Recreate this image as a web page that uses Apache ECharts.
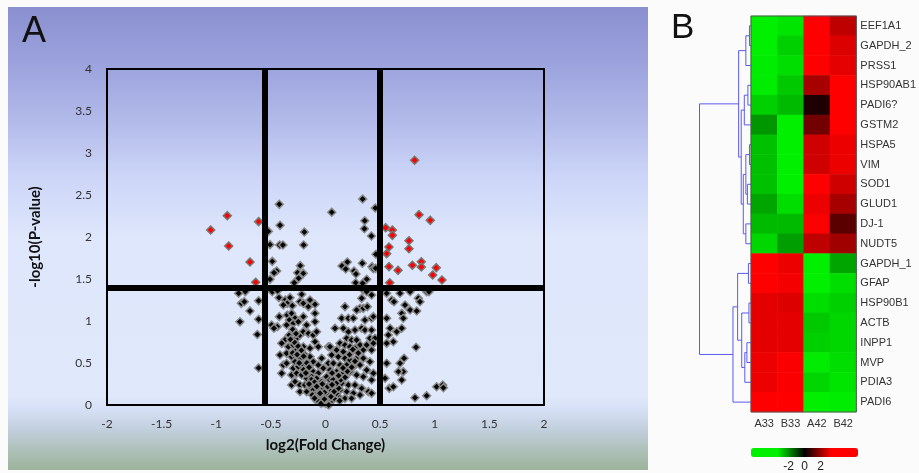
<!DOCTYPE html>
<html><head><meta charset="utf-8">
<script src="https://cdn.jsdelivr.net/npm/echarts@6/dist/echarts.min.js"></script>
<style>html,body{margin:0;padding:0;background:#fbfbfb}#c{width:919px;height:473px}</style>
</head><body><div id="c"></div>
<script>
// ---------- Panel A: volcano plot data ----------
const xTicks = [-2,-1.5,-1,-0.5,0,0.5,1,1.5,2];
const yTicks = [0,0.5,1,1.5,2,2.5,3,3.5,4];
const foldThresholdLow = -0.555;
const foldThresholdHigh = 0.5;
const pThreshold = 1.4;

const redPoints = [[-1.051,2.083],[-0.899,2.254],[-0.886,1.893],[-0.612,2.183],[-0.691,1.702],[-0.639,1.461],
 [0.816,2.913],[0.856,2.266],[0.959,2.198],[0.551,2.111],[0.612,2.083],[0.612,2.02],[0.764,1.956],[0.764,1.861],
 [0.581,1.881],[0.56,1.802],[0.581,1.647],[0.664,1.603],[0.795,1.663],[0.877,1.706],[0.877,1.643],[1.014,1.635],
 [0.981,1.548],[1.066,1.488],[0.588,1.456]];

const greyAbove = [[-0.423,2.389],[-0.416,2.139],[-0.523,2.067],[-0.508,1.909],[-0.42,1.905],[-0.39,1.905],[-0.194,2.06],
 [-0.2,1.905],[-0.487,1.71],[-0.447,1.595],[-0.471,1.575],[-0.231,1.659],[-0.255,1.575],[-0.203,1.567],[-0.246,1.508],
 [-0.508,1.496],[-0.286,1.456],[0.057,2.294],[0.34,2.452],[0.456,2.345],[0.359,2.194],[0.356,2.099],[0.42,2.012],
 [0.462,1.794],[0.337,1.687],[0.2,1.702],[0.151,1.655],[0.185,1.619],[0.261,1.595],[0.279,1.56],[0.426,1.647],
 [0.438,1.623],[0.377,1.496],[0.276,1.456],[0.34,1.449],[0.459,1.627]];

const greyOutsideLeft = [[-0.795,1.33],[-0.734,1.35],[-0.771,1.21],[-0.743,1.23],[-0.691,1.12],[-0.783,0.99],
 [-0.612,1.24],[-0.612,1.02],[-0.624,0.84],[-0.612,0.44]];

const greyOutsideRight = [[0.546,1.349],[0.606,1.25],[0.627,1.23],[0.682,1.33],[0.774,1.349],[0.85,1.27],[0.865,1.23],
 [0.728,1.19],[0.774,1.131],[0.835,1.119],[0.698,1.091],[0.712,1.032],[0.56,1.032],[0.591,0.913],[0.575,0.833],
 [0.652,0.873],[0.698,0.913],[0.621,0.754],[0.56,0.734],[0.829,0.687],[0.719,0.556],[0.682,0.496],[0.712,0.397],
 [0.667,0.397],[0.698,0.298],[0.56,0.496],[0.545,0.318],[0.584,0.198],[0.621,0.218],[0.819,0.087],[0.926,0.111],
 [1.017,0.218],[1.073,0.238],[1.079,0.206],[0.926,1.349],[0.947,1.349],[0.56,1.33]];

const greyCenterLeft = [[-0.487,1.349],[-0.438,1.361],[-0.426,1.278],[-0.368,1.25],[-0.325,1.278],[-0.35,1.21],
 [-0.304,1.183],[-0.234,1.23],[-0.218,1.317],[-0.203,1.21],[-0.157,1.171],[-0.142,1.25],[-0.096,1.198],[-0.386,1.19],
 [-0.493,0.952],[-0.441,0.933],[-0.472,0.913],[-0.423,1.052],[-0.35,1.071],[-0.31,1.091],[-0.279,1.032],[-0.331,1.012],
 [-0.295,0.972],[-0.249,0.992],[-0.203,1.052],[-0.173,0.952],[-0.096,1.091],[-0.096,0.992],[-0.356,0.952],
 [-0.371,0.774],[-0.401,0.734],[-0.331,0.833],[-0.295,0.873],[-0.264,0.794],[-0.234,0.833],[-0.203,0.873],
 [-0.157,0.853],[-0.112,0.833],[-0.081,0.873],[-0.34,0.694],[-0.295,0.714],[-0.264,0.655],[-0.203,0.694],
 [-0.142,0.675],[-0.096,0.754],[-0.066,0.694],[0.026,0.694],[-0.417,0.595],[-0.356,0.615],
 [-0.386,0.476],[-0.356,0.496],[-0.401,0.377],[-0.31,0.575],[-0.279,0.516],[-0.234,0.556],[-0.188,0.595],
 [-0.142,0.575],[-0.112,0.516],[-0.066,0.476],[-0.035,0.556],[-0.295,0.437],[-0.249,0.456],[-0.203,0.476],
 [-0.157,0.417],[-0.112,0.397],[-0.066,0.377],[-0.02,0.437],[0.026,0.496],[-0.31,0.357],[-0.264,0.377],
 [-0.218,0.357],[-0.173,0.317],[-0.127,0.337],[-0.081,0.317],[-0.035,0.278],[0.01,0.337],
 [-0.31,0.238],[-0.279,0.278],[-0.234,0.238],[-0.188,0.238],[-0.142,0.218],[-0.112,0.179],[-0.066,0.198],
 [-0.035,0.159],[-0.005,0.119],[0.026,0.079],[-0.234,0.159],[-0.173,0.159],[-0.096,0.119],[-0.051,0.087],
 [0.01,0.06],[-0.02,0.198]];

const greyCenterRight = [[0.346,1.369],[0.377,1.349],[0.422,1.31],[0.331,1.27],[0.316,1.151],[0.346,1.151],
 [0.383,1.171],[0.285,1.131],[0.178,1.171],[0.148,1.032],[0.209,1.032],[0.255,1.032],[0.361,1.012],[0.422,1.032],
 [0.438,1.052],[0.087,0.913],[0.163,0.913],[0.209,0.873],[0.27,0.893],[0.331,0.913],[0.361,0.893],[0.422,0.893],
 [0.407,0.794],[0.453,0.794],[0.194,0.794],[0.239,0.774],[0.285,0.774],[0.316,0.714],[0.377,0.714],[0.438,0.734],
 [0.133,0.734],[0.178,0.714],[0.224,0.694],[0.27,0.675],[0.041,0.694],[0.102,0.655],[0.163,0.635],[0.346,0.655],
 [0.422,0.655],[0.056,0.595],[0.117,0.575],[0.178,0.556],[0.224,0.536],[0.285,0.556],[0.346,0.556],[0.407,0.516],
 [0.072,0.496],[0.133,0.476],[0.194,0.476],[0.255,0.456],[0.316,0.476],[0.377,0.417],[0.438,0.377],[0.041,0.417],
 [0.102,0.397],[0.163,0.377],[0.224,0.397],[0.285,0.357],[0.346,0.337],[0.422,0.298],[0.041,0.298],[0.087,0.278],
 [0.148,0.258],[0.209,0.238],[0.27,0.238],[0.331,0.198],[0.392,0.159],[0.422,0.139],[0.072,0.198],[0.133,0.179],
 [0.194,0.159],[0.255,0.139],[0.316,0.119],[0.056,0.119],[0.117,0.099],[0.178,0.079],[0.239,0.079],[0.041,0.04]];

const greyBottomCenter = [[0,0.02],[0.02,0.01],[-0.02,0.03],[0.01,0.05],[-0.04,0.06],[0.04,0.03],[0.06,0.06],
 [-0.06,0.1],[0,0.09],[0.03,0.12],[-0.01,0.15],[0.05,0.18],[-0.05,0.14],[0.08,0.08],[0.1,0.14],[-0.08,0.05],
 [0.02,0.22],[0.07,0.3],[-0.03,0.25],[0.06,0.38]];

const greyDenseCore = [[-0.3,0.9],[-0.27,0.85],[-0.32,0.78],[-0.28,0.74],[-0.25,0.7],[-0.3,0.62],[-0.26,0.6],
 [-0.22,0.65],[-0.2,0.58],[-0.24,0.5],[-0.2,0.42],[-0.17,0.5],[-0.15,0.45],[-0.18,0.38],[-0.13,0.3],[-0.1,0.27],
 [-0.15,0.25],[-0.08,0.22],[-0.12,0.12],[-0.07,0.05],[-0.1,0.08],[-0.04,0.02],[0.03,0],[0.05,0.1],[0.08,0.16],
 [0.12,0.2],[0.1,0.26],[0.14,0.3],[0.18,0.33],[0.2,0.4],[0.16,0.44],[0.24,0.45],[0.22,0.6],[0.27,0.52],[0.3,0.62],
 [0.25,0.66],[0.12,0.35],[0.06,0.24],[-0.01,0.07],[0.13,0.05]];

// ---------- Panel B: heatmap data ----------
const sampleLabels = ['A33','B33','A42','B42'];
const rowLabels = ['EEF1A1','GAPDH_2','PRSS1','HSP90AB1','PADI6?','GSTM2','HSPA5','VIM','SOD1','GLUD1','DJ-1','NUDT5',
 'GAPDH_1','GFAP','HSP90B1','ACTB','INPP1','MVP','PDIA3','PADI6'];
const valuesA33 = [-3.4,-3.4,-3.3,-3.3,-2.9,-2.1,-2.7,-2.7,-2.7,-2.3,-2.6,-3.0, 3.4,3.4,3.0,3.0,3.0,3.1,3.1,3.4];
const valuesB33 = [-3.2,-2.9,-3.1,-2.8,-2.6,-3.4,-3.4,-3.4,-3.4,-3.1,-2.6,-2.2, 3.1,3.2,2.9,3.0,3.0,3.3,3.3,3.4];
const valuesA42 = [3.4,3.4,3.4,2.2,0.4,1.5,2.7,2.7,3.4,3.1,3.3,2.5, -3.4,-3.4,-3.1,-2.8,-2.9,-3.3,-3.0,-3.4];
const valuesB42 = [2.5,2.9,3.0,3.4,3.4,3.4,3.1,3.1,2.7,2.2,1.2,2.1, -2.3,-3.1,-2.9,-3.0,-3.0,-3.1,-3.2,-3.3];
const colorScaleMin = -6.7, colorScaleMax = 6.7;
const colorScaleTicks = [-2,0,2];

// dendrogram merges (leaf i = row i, internal node = rows + merge index)
const mergeLeft   = [0, 20, 3, 22, 6, 8, 24, 10, 26, 23, 21, 12, 14, 16, 33, 32, 31, 36, 30];
const mergeRight  = [1, 2, 4, 5, 7, 9, 25, 11, 27, 28, 29, 13, 15, 17, 18, 34, 35, 19, 37];
const mergeHeight = [0.03,0.10,0.06,0.13,0.03,0.07,0.10,0.10,0.15,0.19,0.24,0.05,0.04,0.08,0.12,0.18,0.26,0.35,1.0];

// ---------- build ----------
const greyPoints = [].concat(greyAbove, greyOutsideLeft, greyOutsideRight, greyCenterLeft, greyCenterRight, greyBottomCenter, greyDenseCore);
const cols = [valuesA33, valuesB33, valuesA42, valuesB42];
const heatData = [];
cols.forEach((arr, ci) => arr.forEach((v, ri) => heatData.push([ci, ri, v])));

const nodeY = {}, nodeH = {};
rowLabels.forEach((_, i) => { nodeY[i] = i; nodeH[i] = 0; });
const dendroLines = [];
mergeLeft.forEach((a, k) => {
  const b = mergeRight[k], h = mergeHeight[k], id = rowLabels.length + k;
  dendroLines.push({coords: [[nodeH[a], nodeY[a]], [h, nodeY[a]], [h, nodeY[b]], [nodeH[b], nodeY[b]]]});
  nodeY[id] = (nodeY[a] + nodeY[b]) / 2; nodeH[id] = h;
});

const font = 'Lato, "Open Sans", sans-serif';
const chart = echarts.init(document.getElementById('c'), null, {renderer: 'canvas'});
chart.setOption({
  animation: false,
  backgroundColor: '#fbfbfb',
  graphic: [
    {type: 'rect', z: -10, shape: {x: 8, y: 7, width: 640, height: 463},
     style: {fill: new echarts.graphic.LinearGradient(0, 0, 0, 1, [
       {offset: 0, color: '#8a90cf'}, {offset: 0.12, color: '#9ba2dd'}, {offset: 0.25, color: '#b3bbea'},
       {offset: 0.37, color: '#cdd6f8'}, {offset: 0.5, color: '#dee7fb'}, {offset: 0.84, color: '#e0e9fb'},
       {offset: 0.87, color: '#d6e0f5'}, {offset: 0.91, color: '#c3d0df'}, {offset: 0.95, color: '#b1c3bf'},
       {offset: 1, color: '#9cb39b'}])}},
    {type: 'text', left: 22, top: 14, style: {text: 'A', font: '36px "Liberation Sans", Arial, sans-serif', fill: '#111'}},
    {type: 'text', left: 671, top: 11, style: {text: 'B', font: '35px "Liberation Sans", Arial, sans-serif', fill: '#111'}}
  ],
  grid: [
    {left: 107, top: 69, width: 437, height: 336, show: true, borderColor: '#000', borderWidth: 2, z: 10, backgroundColor: 'transparent'},
    {left: 751, top: 16, width: 107, height: 396, show: true, borderColor: '#555', borderWidth: 1, z: 10, backgroundColor: 'transparent'},
    {left: 699.5, top: 16, width: 51.5, height: 396},
    {left: 751, top: 448, width: 107, height: 9}
  ],
  xAxis: [
    {type: 'value', gridIndex: 0, min: xTicks[0], max: xTicks[xTicks.length - 1], interval: 0.5,
     axisLine: {show: false}, axisTick: {show: false}, splitLine: {show: false},
     axisLabel: {fontFamily: font, fontSize: 12, color: '#333', margin: 13},
     name: 'log2(Fold Change)', nameLocation: 'middle', nameGap: 33,
     nameTextStyle: {fontFamily: font, fontSize: 15, fontWeight: 'bold', color: '#111'}},
    {type: 'category', gridIndex: 1, data: sampleLabels, axisLine: {show: false}, axisTick: {show: false},
     axisLabel: {fontFamily: '"Liberation Sans", Arial, sans-serif', fontSize: 11, color: '#333', margin: 6}},
    {type: 'value', gridIndex: 2, min: 0, max: 1, inverse: true, show: false},
    {type: 'value', gridIndex: 3, min: colorScaleMin, max: colorScaleMax, axisLine: {show: false}, axisTick: {show: false},
     splitLine: {show: false},
     axisLabel: {customValues: colorScaleTicks, fontFamily: '"Liberation Sans", Arial, sans-serif', fontSize: 12, color: '#222', margin: 4}}
  ],
  yAxis: [
    {type: 'value', gridIndex: 0, min: yTicks[0], max: yTicks[yTicks.length - 1], interval: 0.5,
     axisLine: {show: false}, axisTick: {show: false}, splitLine: {show: false},
     axisLabel: {fontFamily: font, fontSize: 12, color: '#333', margin: 15},
     name: '-log10(P-value)', nameLocation: 'middle', nameGap: 64,
     nameTextStyle: {fontFamily: font, fontSize: 15, fontWeight: 'bold', color: '#111'}},
    {type: 'category', gridIndex: 1, data: rowLabels, inverse: true, position: 'right',
     axisLine: {show: false}, axisTick: {show: false},
     axisLabel: {fontFamily: '"Liberation Sans", Arial, sans-serif', fontSize: 11, color: '#333', margin: 4}},
    {type: 'value', gridIndex: 2, min: -0.5, max: rowLabels.length - 0.5, inverse: true, show: false},
    {type: 'value', gridIndex: 3, min: 0, max: 1, show: false}
  ],
  visualMap: {
    type: 'continuous', seriesIndex: 2, dimension: 2, min: colorScaleMin, max: colorScaleMax,
    orient: 'horizontal', left: 751, top: 448, itemWidth: 9, itemHeight: 107, padding: 0,
    calculable: false, text: null, showLabel: false, hoverLink: false,
    inRange: {color: ['#00f000', '#00f000', '#000000', '#ff0000', '#ff0000']},
    textStyle: {color: 'transparent'}
  },
  series: [
    {type: 'scatter', xAxisIndex: 0, yAxisIndex: 0, data: greyPoints, symbol: 'diamond', symbolSize: 8,
     itemStyle: {color: '#050505', borderColor: '#8a8a8a', borderWidth: 1.5, opacity: 1}, z: 3,
     markLine: {silent: true, symbol: ['none', 'none'], z: 6, label: {show: false},
       lineStyle: {color: '#000', width: 6, type: 'solid'},
       data: [{xAxis: foldThresholdLow}, {xAxis: foldThresholdHigh}, {yAxis: pThreshold}]}},
    {type: 'scatter', xAxisIndex: 0, yAxisIndex: 0, data: redPoints, symbol: 'diamond', symbolSize: 8,
     itemStyle: {color: '#ff0000', borderColor: '#777', borderWidth: 1.5, opacity: 1}, z: 4},
    {type: 'heatmap', xAxisIndex: 1, yAxisIndex: 1, data: heatData, itemStyle: {borderWidth: 0}},
    {type: 'lines', coordinateSystem: 'cartesian2d', xAxisIndex: 2, yAxisIndex: 2, polyline: true,
     data: dendroLines, lineStyle: {color: '#5a5af0', width: 1, opacity: 1}, silent: true}
  ]
});
</script></body></html>
